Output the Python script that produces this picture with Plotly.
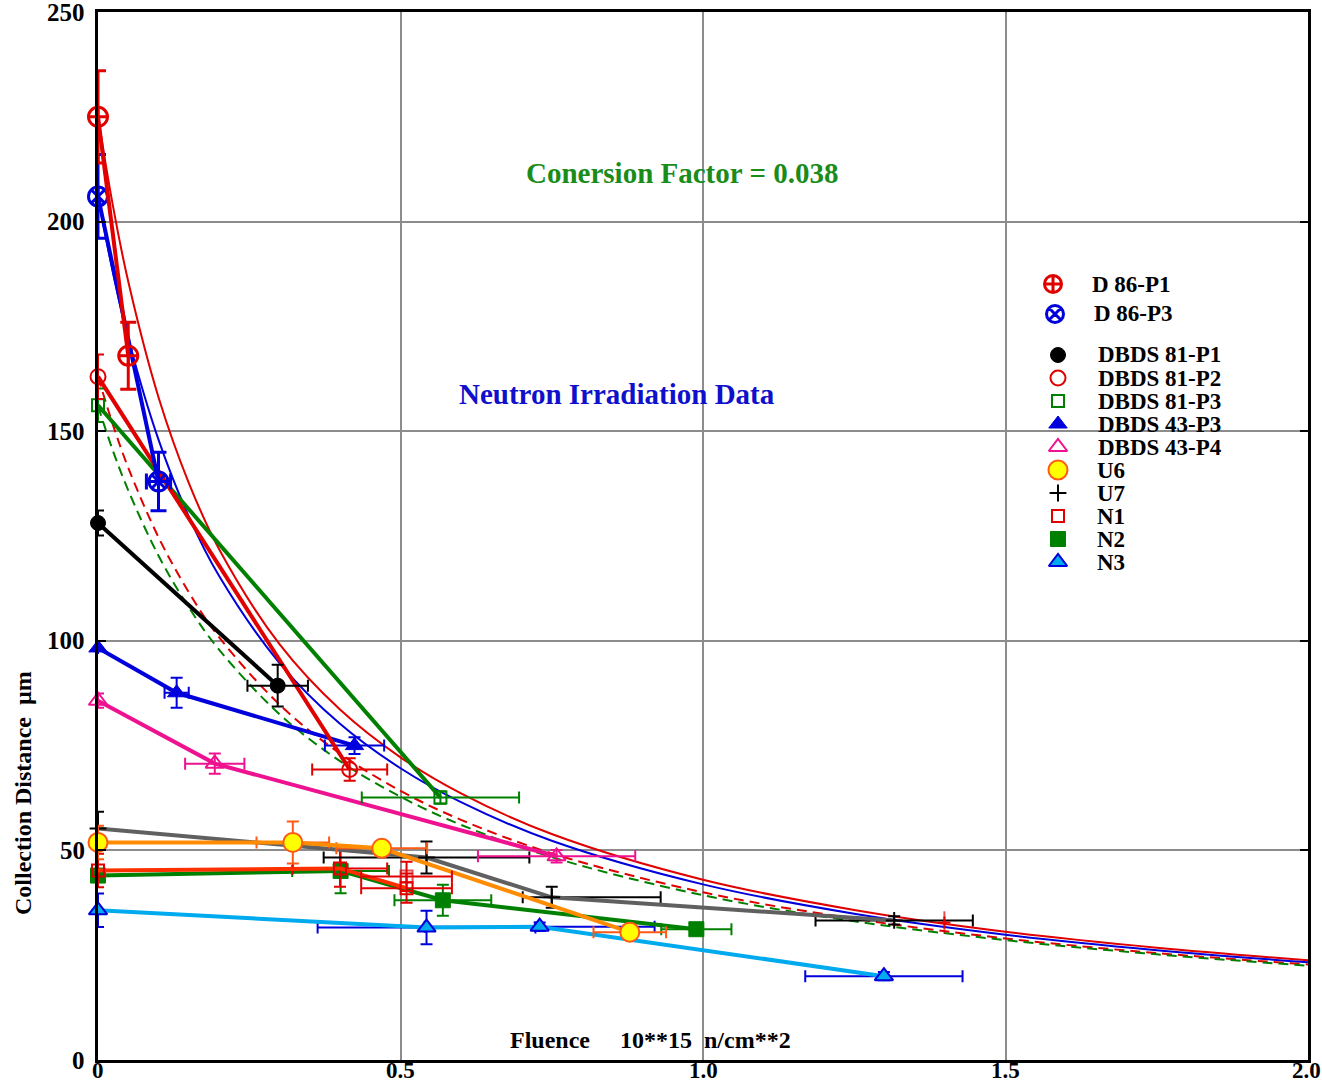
import plotly.graph_objects as go

# ---------------- data ----------------
# fitted curves
fit_x = [0, 0.025, 0.05, 0.1, 0.15, 0.2, 0.3, 0.4, 0.5, 0.6, 0.75, 1.0, 1.25, 1.5, 1.75, 2.0]
fit_red_solid = [225, 203.5, 185.7, 158.1, 137.7, 121.9, 99.2, 83.6, 72.2, 63.6, 53.9, 43.0, 35.8, 30.6, 26.8, 23.8]
fit_blue_solid = [206, 187.6, 172.2, 148.0, 129.7, 115.5, 94.7, 80.2, 69.6, 61.5, 52.3, 41.9, 34.9, 29.9, 26.2, 23.3]
fit_red_dash = [163, 151.4, 141.3, 124.7, 111.6, 100.9, 84.8, 73.1, 64.2, 57.3, 49.3, 40.0, 33.7, 29.0, 25.5, 22.8]
fit_green_dash = [156, 145.2, 135.9, 120.3, 108.0, 97.9, 82.5, 71.3, 62.8, 56.1, 48.4, 39.3, 33.1, 28.6, 25.2, 22.5]

d86p1_x = [0, 0.05]
d86p1_y = [225, 168]
d86p1_ey = [11, 8]
d86p1_ex = [0, 0]

d86p3_x = [0, 0.10]
d86p3_y = [206, 138]
d86p3_ey = [10, 7]
d86p3_ex = [0, 0.02]

dbds81p1_x = [0, 0.297]
dbds81p1_y = [128.1, 89.3]
dbds81p1_ey = [3, 5]
dbds81p1_ex = [0, 0.05]

dbds81p2_x = [0, 0.416]
dbds81p2_y = [163, 69.3]
dbds81p2_ey = [5.3, 2.7]
dbds81p2_ex = [0, 0.062]

dbds81p3_x = [0, 0.566]
dbds81p3_y = [156.2, 62.6]
dbds81p3_ey = [4, 1.5]
dbds81p3_ex = [0, 0.13]

dbds43p3_x = [0, 0.130, 0.424]
dbds43p3_y = [98.3, 87.6, 75.0]
dbds43p3_ey = [0, 3.6, 2]
dbds43p3_ex = [0, 0.02, 0.049]

dbds43p4_x = [0, 0.193, 0.758]
dbds43p4_y = [85.7, 70.7, 48.6]
dbds43p4_ey = [1.7, 2.4, 1.5]
dbds43p4_ex = [0, 0.049, 0.13]

u6_x = [0, 0.322, 0.469, 0.879]
u6_y = [51.9, 51.9, 50.5, 30.5]
u6_ey = [4, 5, 0, 0]
u6_ex = [0, 0.06, 0.075, 0.06]

u7_x = [0, 0.543, 0.750, 1.316]
u7_y = [55.2, 48.3, 38.8, 33.3]
u7_ey = [4, 3.8, 2.5, 1.0]
u7_ex_plus = [0, 0.17, 0.18, 0.13]
u7_ex_minus = [0, 0.17, 0.048, 0.13]

n1_x = [0, 0.400, 0.510]
n1_y = [45.2, 45.7, 41.0]
n1_ey = [4, 4.4, 3.5]
n1_ex = [0, 0.078, 0.075]
n1_extra_x = [0.510, 1.399]
n1_extra_y = [43.8, 32.8]
n1_extra_ey = [3.5, 0]
n1_extra_ex = [0.075, 0]

n2_x = [0, 0.401, 0.570, 0.989]
n2_y = [44.0, 45.1, 38.1, 31.2]
n2_ey = [1.5, 5.3, 3.7, 1.0]
n2_ex = [0, 0.08, 0.08, 0.058]

n3_x = [0, 0.543, 0.730, 1.299]
n3_y = [35.7, 31.6, 31.8, 20.0]
n3_ey = [4, 4, 1, 1]
n3_ex = [0, 0.18, 0.19, 0.13]

legend_labels = ["D 86-P1", "D 86-P3", "DBDS 81-P1", "DBDS 81-P2", "DBDS 81-P3",
                 "DBDS 43-P3", "DBDS 43-P4", "U6", "U7", "N1", "N2", "N3"]

x_tickvals = [0, 0.5, 1.0, 1.5, 2.0]
x_ticktext = ["0", "0.5", "1.0", "1.5", "2.0"]
y_tickvals = [0, 50, 100, 150, 200, 250]
y_ticktext = ["0", "50", "100", "150", "200", "250"]

# ---------------- layout constants ----------------
W, H = 1322, 1085
L, R, T, B = 98, 1308, 12, 1060
FONT = "Liberation Serif, Times New Roman, serif"

RED = "#e00000"
BLUE = "#0000dd"
GREEN = "#008000"
PINK = "#ee1290"
ORANGE = "#ff8c00"
ORANGE_EDGE = "#ff5a14"
GREY = "#606060"
ORANGERED = "#ff3000"
SKY = "#00aaee"


def paper_x(xp):
    return (xp - L) / (R - L)


def paper_y(yp):
    return (B - yp) / (B - T)


fig = go.Figure()

# fitted curves
for ys, col, dash in [(fit_red_solid, RED, "solid"), (fit_blue_solid, BLUE, "solid"),
                      (fit_red_dash, RED, "dash"), (fit_green_dash, GREEN, "dash")]:
    fig.add_trace(go.Scatter(x=fit_x, y=ys, mode="lines",
                             line=dict(color=col, width=2, dash=dash if dash == "solid" else "10px,6px",
                                       shape="spline", smoothing=1.0),
                             hoverinfo="skip", showlegend=False, cliponaxis=True))


def err(arr, col, thick=2, width=6, minus=None):
    if not any(arr) and (minus is None or not any(minus)):
        return dict(visible=False)
    d = dict(type="data", array=arr, color=col, thickness=thick, width=width, visible=True)
    if minus is not None:
        d["symmetric"] = False
        d["arrayminus"] = minus
    return d


series = [
    dict(x=n3_x, y=n3_y, ey=n3_ey, ex=n3_ex, lc=SKY, ec=BLUE,
         m=dict(symbol="triangle-up", size=16, color=SKY, line=dict(color=BLUE, width=2))),
    dict(x=n2_x, y=n2_y, ey=n2_ey, ex=n2_ex, lc=GREEN, ec=GREEN,
         m=dict(symbol="square", size=15, color=GREEN, line=dict(color=GREEN, width=1))),
    dict(x=n1_x, y=n1_y, ey=n1_ey, ex=n1_ex, lc=ORANGERED, ec=RED,
         m=dict(symbol="square-open", size=12, color=RED, line=dict(color=RED, width=2))),
    dict(x=u7_x, y=u7_y, ey=u7_ey, ex=u7_ex_plus, exm=u7_ex_minus, lc=GREY, ec="black",
         m=dict(symbol="cross-thin-open", size=12, color="black", line=dict(color="black", width=2))),
    dict(x=u6_x, y=u6_y, ey=u6_ey, ex=u6_ex, lc=ORANGE, ec=ORANGE_EDGE,
         m=dict(symbol="circle", size=19, color="#ffff00", line=dict(color=ORANGE_EDGE, width=2))),
    dict(x=dbds43p4_x, y=dbds43p4_y, ey=dbds43p4_ey, ex=dbds43p4_ex, lc=PINK, ec=PINK,
         m=dict(symbol="triangle-up-open", size=16, color=PINK, line=dict(color=PINK, width=2))),
    dict(x=dbds43p3_x, y=dbds43p3_y, ey=dbds43p3_ey, ex=dbds43p3_ex, lc=BLUE, ec=BLUE,
         m=dict(symbol="triangle-up", size=16, color=BLUE, line=dict(color=BLUE, width=1))),
    dict(x=dbds81p3_x, y=dbds81p3_y, ey=dbds81p3_ey, ex=dbds81p3_ex, lc=GREEN, ec=GREEN,
         m=dict(symbol="square-open", size=12, color=GREEN, line=dict(color=GREEN, width=2))),
    dict(x=dbds81p2_x, y=dbds81p2_y, ey=dbds81p2_ey, ex=dbds81p2_ex, lc=RED, ec=RED,
         m=dict(symbol="circle-open", size=15, color=RED, line=dict(color=RED, width=2))),
    dict(x=dbds81p1_x, y=dbds81p1_y, ey=dbds81p1_ey, ex=dbds81p1_ex, lc="black", ec="black",
         m=dict(symbol="circle", size=15, color="black", line=dict(color="black", width=1))),
    dict(x=d86p3_x, y=d86p3_y, ey=d86p3_ey, ex=d86p3_ex, lc=BLUE, ec=BLUE, thick=3, cw=8,
         m=dict(symbol="circle-x-open", size=19, color=BLUE, line=dict(color=BLUE, width=3))),
    dict(x=d86p1_x, y=d86p1_y, ey=d86p1_ey, ex=d86p1_ex, lc=RED, ec=RED, thick=3, cw=8,
         m=dict(symbol="circle-cross-open", size=19, color=RED, line=dict(color=RED, width=3))),
]

for s in series:
    th = s.get("thick", 2)
    cw = s.get("cw", 6)
    fig.add_trace(go.Scatter(
        x=s["x"], y=s["y"], mode="lines+markers",
        line=dict(color=s["lc"], width=4),
        marker=s["m"],
        error_y=err(s["ey"], s["ec"], th, cw),
        error_x=err(s["ex"], s["ec"], th, cw, s.get("exm")),
        showlegend=False, cliponaxis=False, hoverinfo="skip"))

# extra N1 points (not joined)
fig.add_trace(go.Scatter(
    x=n1_extra_x, y=n1_extra_y, mode="markers",
    marker=dict(symbol=["square-open", "line-ns-open"], size=[12, 16], color=RED,
                line=dict(color=RED, width=2)),
    error_y=err(n1_extra_ey, RED), error_x=err(n1_extra_ex, RED),
    showlegend=False, cliponaxis=False, hoverinfo="skip"))

# ---------------- custom legend (overlay axis in pixel units) ----------------
leg_marker_x = [1053, 1055] + [1058] * 10
leg_row_y = [284, 314] + [355 + 23 * i for i in range(10)]
leg_text_x = [1090, 1092] + [1096] * 5 + [1095] * 5
leg_markers = [
    dict(symbol="circle-cross-open", size=17, color=RED, line=dict(color=RED, width=3)),
    dict(symbol="circle-x-open", size=17, color=BLUE, line=dict(color=BLUE, width=3)),
    dict(symbol="circle", size=15, color="black", line=dict(color="black", width=1)),
    dict(symbol="circle-open", size=15, color=RED, line=dict(color=RED, width=2)),
    dict(symbol="square-open", size=12, color=GREEN, line=dict(color=GREEN, width=2)),
    dict(symbol="triangle-up", size=16, color=BLUE, line=dict(color=BLUE, width=1)),
    dict(symbol="triangle-up-open", size=16, color=PINK, line=dict(color=PINK, width=2)),
    dict(symbol="circle", size=19, color="#ffff00", line=dict(color=ORANGE_EDGE, width=2)),
    dict(symbol="cross-thin-open", size=12, color="black", line=dict(color="black", width=2)),
    dict(symbol="square-open", size=12, color=RED, line=dict(color=RED, width=2)),
    dict(symbol="square", size=15, color=GREEN, line=dict(color=GREEN, width=1)),
    dict(symbol="triangle-up", size=16, color=SKY, line=dict(color=BLUE, width=2)),
]
for i, lab in enumerate(legend_labels):
    fig.add_trace(go.Scatter(x=[leg_marker_x[i]], y=[leg_row_y[i]], mode="markers",
                             marker=leg_markers[i], xaxis="x2", yaxis="y2",
                             showlegend=False, cliponaxis=False, hoverinfo="skip"))
    fig.add_annotation(x=paper_x(leg_text_x[i]), y=paper_y(leg_row_y[i]), xref="paper", yref="paper",
                       text=lab, showarrow=False, xanchor="left", yanchor="middle",
                       font=dict(family=FONT, size=23, color="black", weight="bold"))

# ---------------- texts ----------------
fig.add_annotation(x=paper_x(682), y=paper_y(173), xref="paper", yref="paper",
                   text="Conersion Factor = 0.038", showarrow=False,
                   xanchor="center", yanchor="middle",
                   font=dict(family=FONT, size=29, color="#1a8c1a", weight="bold"))
fig.add_annotation(x=paper_x(617), y=paper_y(394), xref="paper", yref="paper",
                   text="Neutron Irradiation Data", showarrow=False,
                   xanchor="center", yanchor="middle",
                   font=dict(family=FONT, size=29, color="#1010cc", weight="bold"))
fig.add_annotation(x=paper_x(650), y=paper_y(1040), xref="paper", yref="paper",
                   text="Fluence     10**15  n/cm**2", showarrow=False,
                   xanchor="center", yanchor="middle",
                   font=dict(family=FONT, size=24, color="black", weight="bold"))
fig.add_annotation(x=paper_x(23), y=paper_y(793), xref="paper", yref="paper",
                   text="Collection Distance  µm", showarrow=False, textangle=-90,
                   xanchor="center", yanchor="middle",
                   font=dict(family=FONT, size=24, color="black", weight="bold"))

axis_font = dict(family=FONT, size=25, color="black", weight="bold")
xtick_font = dict(family=FONT, size=23, color="black", weight="bold")

# tick labels drawn as annotations so the edge labels stay visible
for i, (v, t) in enumerate(zip(x_tickvals, x_ticktext)):
    last = i == len(x_tickvals) - 1
    fig.add_annotation(x=v, y=paper_y(1070), xref="x", yref="paper", text=t, showarrow=False,
                       xanchor="right" if last else "center", xshift=14 if last else 0,
                       yanchor="middle", borderpad=0, font=xtick_font)
for v, t in zip(y_tickvals, y_ticktext):
    fig.add_annotation(x=paper_x(87), y=v, xref="paper", yref="y", text=t, showarrow=False,
                       xanchor="right", yanchor="middle", font=axis_font)

fig.update_layout(
    width=W, height=H,
    margin=dict(l=L, r=W - R, t=T, b=H - B, pad=0, autoexpand=False),
    paper_bgcolor="white", plot_bgcolor="white",
    showlegend=False,
    xaxis=dict(range=[0, 2], tickvals=x_tickvals, showticklabels=False,
               showgrid=True, gridcolor="#8c8c8c", gridwidth=2, zeroline=False,
               showline=True, linecolor="black", linewidth=3, mirror=True,
               ticks="", fixedrange=True, automargin=False),
    yaxis=dict(range=[0, 250], tickvals=y_tickvals, showticklabels=False,
               showgrid=True, gridcolor="#8c8c8c", gridwidth=2, zeroline=False,
               showline=True, linecolor="black", linewidth=3, mirror="ticks",
               ticks="inside", ticklen=8, tickcolor="black", tickwidth=2, fixedrange=True,
               automargin=False),
    xaxis2=dict(range=[L, R], overlaying="x", anchor="y2", visible=False, fixedrange=True),
    yaxis2=dict(range=[B, T], overlaying="y", anchor="x2", visible=False, fixedrange=True),
)

fig.write_html("out.html")
